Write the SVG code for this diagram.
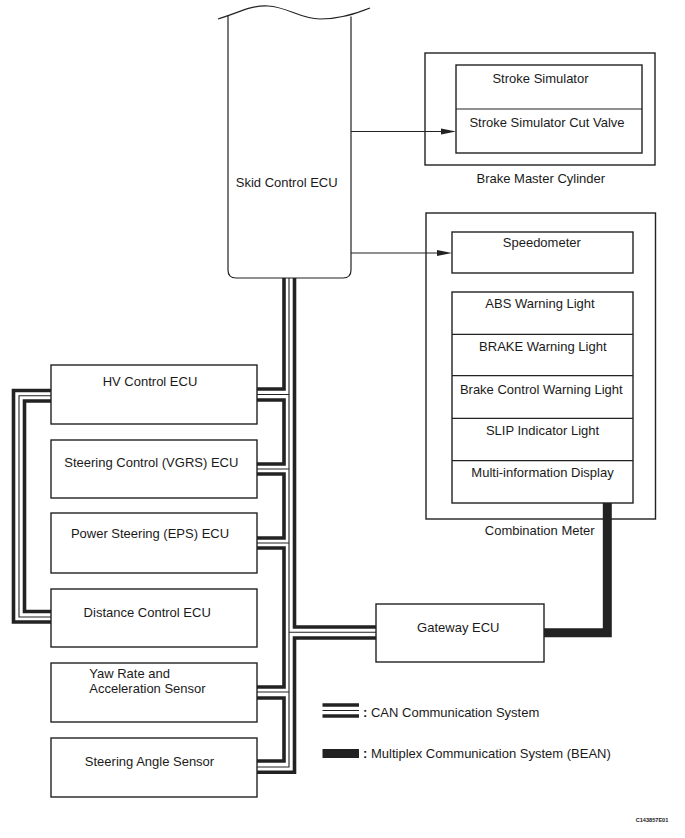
<svg xmlns="http://www.w3.org/2000/svg" width="685" height="838" viewBox="0 0 685 838">
<style>
.box{fill:#fff;stroke:#222;stroke-width:1.4}
.ln{fill:none;stroke:#222;stroke-width:1.2}
.tk{fill:none;stroke:#222;stroke-width:3.6;stroke-linejoin:miter;stroke-linecap:butt}
.tn{fill:none;stroke:#222;stroke-width:1.1;stroke-linejoin:miter}
.bean{fill:none;stroke:#222;stroke-width:9;stroke-linejoin:miter;stroke-linecap:butt}
text{font-family:"Liberation Sans",Arial,sans-serif;font-size:13px;fill:#1a1a1a}
.c{text-anchor:middle}
.code{font-size:5.6px;font-weight:bold}
</style>
<rect x="0" y="0" width="685" height="838" fill="#fff"/>

<g id="skid-control-ecu">
  <path d="M218 19 C240 12 252 5 268 6 C288 7 300 19 320 19 C340 19 355 14 370 8" class="ln"/>
  <path class="ln" d="M228 15.5 V270 Q228 278 236 278 H343 Q351 278 351 270 V16.5"/>
  <text class="c" x="286.7" y="186.5">Skid Control ECU</text>
</g>

<g id="brake-master-cylinder">
  <rect class="box" x="425" y="53" width="230" height="112"/>
  <rect class="box" x="456" y="65" width="186" height="88"/>
  <line class="ln" x1="456" y1="109" x2="642" y2="109"/>
  <text class="c" x="540.5" y="83">Stroke Simulator</text>
  <text class="c" x="547" y="127">Stroke Simulator Cut Valve</text>
  <text class="c" x="540.8" y="182.5">Brake Master Cylinder</text>
</g>

<g id="combination-meter">
  <rect class="box" x="426" y="213" width="229.5" height="306"/>
  <rect class="box" x="452" y="232" width="181" height="41"/>
  <text class="c" x="541.8" y="247">Speedometer</text>
  <rect class="box" x="452" y="292" width="181" height="211"/>
  <line class="ln" x1="452" y1="334.3" x2="633" y2="334.3"/>
  <line class="ln" x1="452" y1="375.7" x2="633" y2="375.7"/>
  <line class="ln" x1="452" y1="418.3" x2="633" y2="418.3"/>
  <line class="ln" x1="452" y1="460.7" x2="633" y2="460.7"/>
  <text class="c" x="540" y="308">ABS Warning Light</text>
  <text class="c" x="542.8" y="351">BRAKE Warning Light</text>
  <text class="c" x="541.3" y="394">Brake Control Warning Light</text>
  <text class="c" x="542.5" y="435">SLIP Indicator Light</text>
  <text class="c" x="542.5" y="477">Multi-information Display</text>
  <text class="c" x="539.7" y="535">Combination Meter</text>
</g>

<g id="hv-control-ecu">
  <rect class="box" x="51" y="365" width="206" height="59"/>
  <text class="c" x="150" y="386">HV Control ECU</text>
</g>
<g id="steering-control-vgrs-ecu">
  <rect class="box" x="51" y="440" width="206" height="58"/>
  <text class="c" x="151.3" y="466.5">Steering Control (VGRS) ECU</text>
</g>
<g id="power-steering-eps-ecu">
  <rect class="box" x="51" y="513" width="206" height="60"/>
  <text class="c" x="150" y="538">Power Steering (EPS) ECU</text>
</g>
<g id="distance-control-ecu">
  <rect class="box" x="51" y="589" width="206" height="58"/>
  <text class="c" x="147.2" y="616.5">Distance Control ECU</text>
</g>
<g id="yaw-rate-sensor">
  <rect class="box" x="51" y="663" width="206" height="59"/>
  <text x="89.3" y="678">Yaw Rate and</text>
  <text x="89.3" y="693">Acceleration Sensor</text>
</g>
<g id="steering-angle-sensor">
  <rect class="box" x="51" y="738" width="206" height="59"/>
  <text class="c" x="149.5" y="766">Steering Angle Sensor</text>
</g>
<g id="gateway-ecu">
  <rect class="box" x="376" y="604" width="168" height="58"/>
  <text class="c" x="458.3" y="631.5">Gateway ECU</text>
</g>

<g id="connectors">
  <!-- arrows from Skid Control ECU -->
  <line class="ln" x1="351" y1="131.5" x2="442" y2="131.5"/>
  <polygon points="441,128.5 456,131.5 441,134.5" fill="#222"/>
  <line class="ln" x1="351" y1="253" x2="438" y2="253"/>
  <polygon points="437,250 452,253 437,256" fill="#222"/>
  <!-- CAN bus: left thick strand -->
  <path class="tk" d="M284 278 V389 H257 M257 400 H284 V464 H257 M257 474 H284 V538 H257 M257 548 H284 V687 H257 M257 698 H284 V761 H257"/>
  <!-- CAN bus: thin strand -->
  <path class="tn" d="M289 278 V767 H257 M257 394.5 H289 M257 469 H289 M257 543 H289 M257 692 H289 M289 632.3 H376"/>
  <!-- CAN bus: right thick strand -->
  <path class="tk" d="M294.5 278 V627 H376 M376 638 H294.5 V772.3 H257"/>
  <!-- CAN loop HV Control ECU to Distance Control ECU -->
  <path class="tk" d="M51 390.5 H13.5 V622 H51"/>
  <path class="tn" d="M51 395.7 H19 V617 H51"/>
  <path class="tk" d="M51 401 H24.5 V611.5 H51"/>
  <!-- BEAN -->
  <path class="bean" d="M607.3 503 V632.8 H544"/>
</g>

<g id="legend">
  <line x1="322.5" y1="705" x2="359" y2="705" stroke="#222" stroke-width="3.6"/>
  <line x1="322.5" y1="710.5" x2="359" y2="710.5" stroke="#222" stroke-width="1.1"/>
  <line x1="322.5" y1="716" x2="359" y2="716" stroke="#222" stroke-width="3.6"/>
  <text x="363" y="716.5"><tspan font-weight="bold">:</tspan> CAN Communication System</text>
  <rect x="322.5" y="749" width="36.5" height="9" fill="#222"/>
  <text x="363" y="758"><tspan font-weight="bold">:</tspan> Multiplex Communication System (BEAN)</text>
</g>

<text class="code" x="635.7" y="821.5">C143857E01</text>
</svg>
